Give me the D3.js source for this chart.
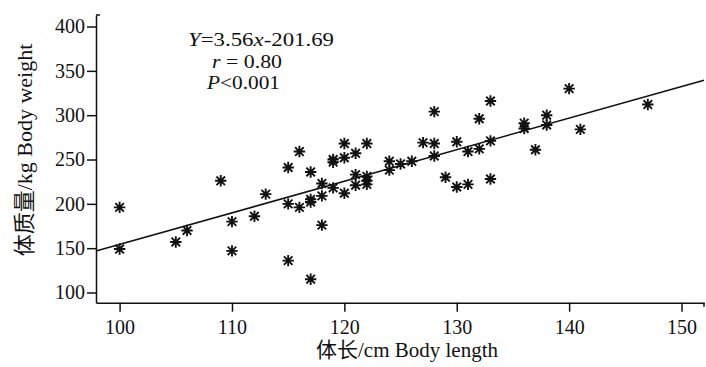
<!DOCTYPE html>
<html>
<head>
<meta charset="utf-8">
<script src="https://cdn.jsdelivr.net/npm/d3@7/dist/d3.min.js"></script>
<style>
  body { margin: 0; background: #fff; }
  svg text { font-family: "Liberation Serif", "Noto Sans CJK SC", serif; fill: #111; }
  .axis path, .axis line { stroke: #111; stroke-width: 1.5; }
</style>
</head>
<body>
<div id="container"></div>
<script>
// body length (cm) and body weight (kg)
var lengths = [100,100,105,106,109,110,110,112,113,115,115,115,116,116,117,117,117,117,118,118,118,119,119,119,120,120,120,121,121,121,122,122,122,122,124,124,125,126,127,128,128,128,129,130,130,131,131,132,132,133,133,133,136,136,137,138,138,140,141,147];
var weights = [196,149,157,170,226,180,147,186,211,241,200,136,259,196,236,205,202,115,223,209,176,250,247,218,268,252,212,257,233,221,268,231,226,222,248,238,245,248,269,304,268,254,230,270,219,259,222,296,262,316,271,228,291,285,261,300,289,330,284,312];

var xTicks = [100,110,120,130,140,150];
var yTicks = [100,150,200,250,300,350,400];

// regression Y = 3.56x - 201.69
var slope = 3.56, intercept = -201.69;

var width = 706, height = 367;

var x = d3.scaleLinear().domain([97.9, 152.0]).range([96, 704]);
var y = d3.scaleLinear().domain([88.5, 413]).range([302.7, 15]);

var data = lengths.map(function(l, i) { return {len: l, wt: weights[i]}; });

var svg = d3.select("#container").append("svg")
    .attr("width", width)
    .attr("height", height);

// asterisk marker (vertical, horizontal and two diagonals)
var star = {
    draw: function(ctx, size) {
        var r = Math.sqrt(size) / 2;
        var d = r * 0.75;
        ctx.moveTo(0, -r); ctx.lineTo(0, r);
        ctx.moveTo(-r, 0); ctx.lineTo(r, 0);
        ctx.moveTo(-d, -d); ctx.lineTo(d, d);
        ctx.moveTo(-d, d); ctx.lineTo(d, -d);
    }
};

var xAxis = d3.axisBottom(x).tickValues(xTicks).tickSize(9).tickSizeOuter(0).tickPadding(8);
var yAxis = d3.axisLeft(y).tickValues(yTicks).tickSize(9).tickSizeOuter(0).tickPadding(2);

var gx = svg.append("g")
    .attr("class", "x axis")
    .attr("transform", "translate(0," + y.range()[0] + ")")
    .call(xAxis);
gx.selectAll("text").style("font-size", "20px");
gx.append("line")
    .attr("x1", x.range()[1]).attr("x2", x.range()[1])
    .attr("y1", 0).attr("y2", 4);

var gy = svg.append("g")
    .attr("class", "y axis")
    .attr("transform", "translate(" + x.range()[0] + ",0)")
    .call(yAxis);
gy.selectAll("text").style("font-size", "20px");
gy.append("line")
    .attr("x1", 0).attr("x2", 4)
    .attr("y1", y.range()[1]).attr("y2", y.range()[1]);

// fitted line over the whole x range
var xd = x.domain();
var fit = d3.line()
    .x(function(d) { return x(d); })
    .y(function(d) { return y(slope * d + intercept); });
svg.append("path")
    .datum(xd)
    .attr("d", fit)
    .attr("fill", "none")
    .attr("stroke", "#111")
    .attr("stroke-width", 1.6);

svg.selectAll(".point")
    .data(data)
    .enter().append("path")
    .attr("class", "point")
    .attr("transform", function(d) { return "translate(" + x(d.len) + "," + y(d.wt) + ")"; })
    .attr("d", d3.symbol().type(star).size(130))
    .attr("fill", "none")
    .attr("stroke", "#111")
    .attr("stroke-width", 1.9);

// equation text, stretched a little to the reference widths
var eq = svg.append("g").style("font-size", "19px");
var t1 = eq.append("text").attr("x", 188).attr("y", 46)
    .attr("textLength", 146).attr("lengthAdjust", "spacingAndGlyphs");
t1.append("tspan").style("font-style", "italic").text("Y");
t1.append("tspan").text("=3.56");
t1.append("tspan").style("font-style", "italic").text("x");
t1.append("tspan").text("-201.69");
var t2 = eq.append("text").attr("x", 212).attr("y", 67.5)
    .attr("textLength", 70).attr("lengthAdjust", "spacingAndGlyphs");
t2.append("tspan").style("font-style", "italic").text("r");
t2.append("tspan").text(" = 0.80");
var t3 = eq.append("text").attr("x", 207).attr("y", 89)
    .attr("textLength", 73).attr("lengthAdjust", "spacingAndGlyphs");
t3.append("tspan").style("font-style", "italic").text("P");
t3.append("tspan").text("<0.001");

// axis titles
svg.append("text")
    .attr("x", 407).attr("y", 357)
    .attr("text-anchor", "middle")
    .style("font-size", "21px")
    .text("体长/cm Body length");

svg.append("text")
    .attr("transform", "translate(32,150) rotate(-90)")
    .attr("text-anchor", "middle")
    .style("font-size", "22px")
    .text("体质量/kg Body weight");
</script>
</body>
</html>
